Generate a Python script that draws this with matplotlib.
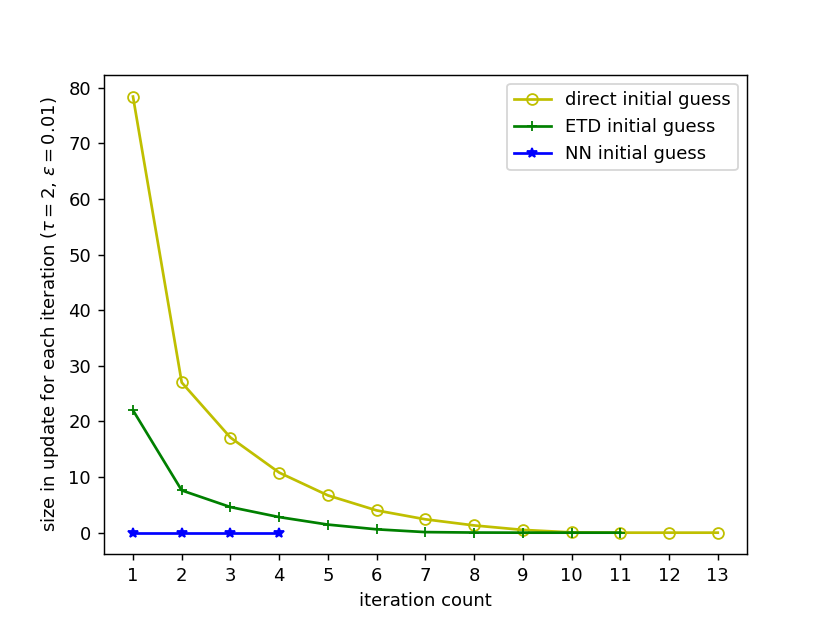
import numpy as np
import matplotlib
matplotlib.use("Agg")
import matplotlib.pyplot as plt

# size of the update at each iteration
direct_iter = np.arange(1, 14)
direct_vals = [78.4, 27.0, 17.1, 10.8, 6.7, 4.0, 2.4, 1.3, 0.5, 0.05, 0.0, 0.0, 0.0]

etd_iter = np.arange(1, 12)
etd_vals = [22.0, 7.6, 4.6, 2.8, 1.45, 0.6, 0.1, 0.02, 0.0, 0.0, 0.0]

nn_iter = np.arange(1, 5)
nn_vals = [0.0, 0.0, 0.0, 0.0]

fig = plt.figure(figsize=(830/130, 623/130), dpi=130)
ax = fig.subplots(1, 1)

ax.plot(direct_iter, direct_vals, 'y-o', fillstyle='none', label="direct initial guess")
ax.plot(etd_iter, etd_vals, 'g-+', label="ETD initial guess")
ax.plot(nn_iter, nn_vals, 'b-*', label="NN initial guess")

ax.set_xticks(direct_iter)
ax.set_xlabel("iteration count")
ax.set_ylabel(r"size in update for each iteration ($\tau=2$, $\varepsilon=0.01$)")
ax.legend(loc="upper right")

fig.savefig("out.png")
